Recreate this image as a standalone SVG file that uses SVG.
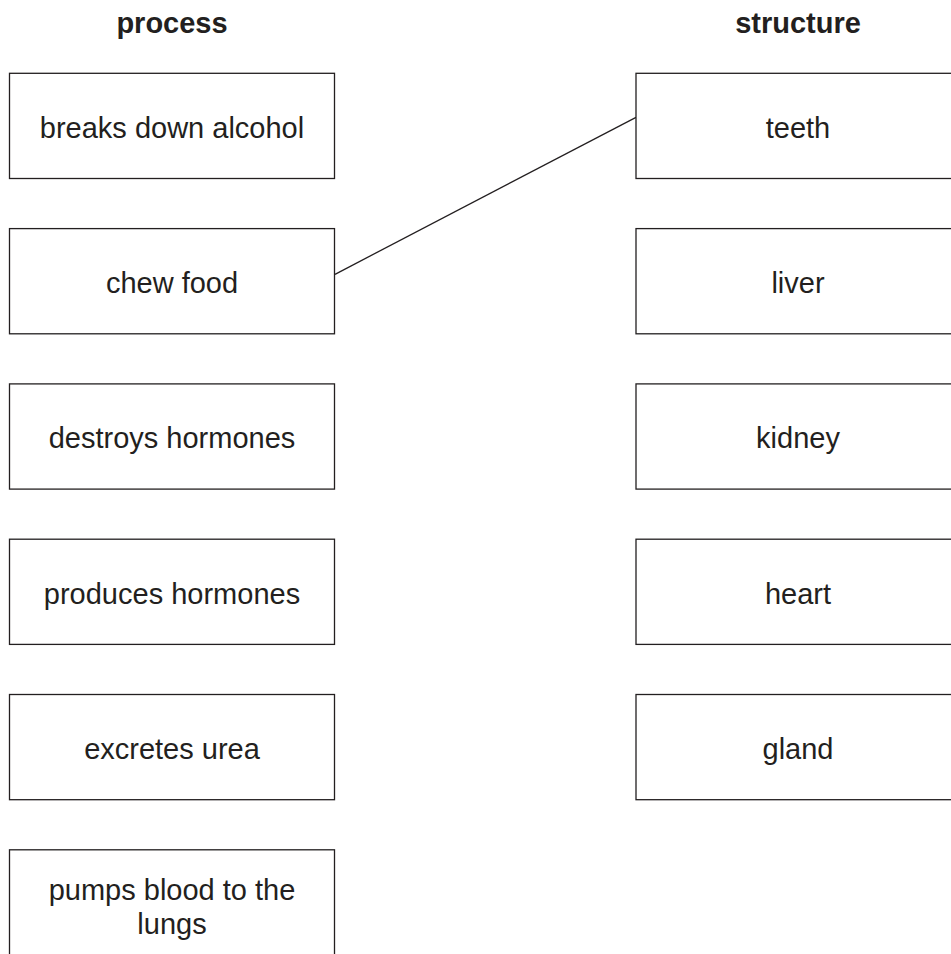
<svg xmlns="http://www.w3.org/2000/svg" width="951" height="954" viewBox="0 0 951 954">
<style>
.box{fill:#fff;stroke:#231f20;stroke-width:1.3}
.t{font-family:"Liberation Sans",Arial,sans-serif;font-size:29px;fill:#231f20;text-anchor:middle}
.h{font-family:"Liberation Sans",Arial,sans-serif;font-size:29px;font-weight:bold;fill:#231f20;text-anchor:middle}
.c{stroke:#231f20;stroke-width:1.3;fill:none}
</style>
<rect width="951" height="954" fill="#fff"/>
<text class="h" x="172" y="33">process</text>
<text class="h" x="798" y="33">structure</text>
<g id="connectors">
<line class="c" x1="335" y1="274.3" x2="636" y2="117.3"/>
</g>
<g id="p1"><rect class="box" x="9.5" y="73.3" width="325" height="105.2"/><text class="t" x="172" y="137.7">breaks down alcohol</text></g>
<g id="p2"><rect class="box" x="9.5" y="228.6" width="325" height="105.2"/><text class="t" x="172" y="293">chew food</text></g>
<g id="p3"><rect class="box" x="9.5" y="383.9" width="325" height="105.2"/><text class="t" x="172" y="448.3">destroys hormones</text></g>
<g id="p4"><rect class="box" x="9.5" y="539.2" width="325" height="105.2"/><text class="t" x="172" y="603.6">produces hormones</text></g>
<g id="p5"><rect class="box" x="9.5" y="694.5" width="325" height="105.2"/><text class="t" x="172" y="758.9">excretes urea</text></g>
<g id="p6"><rect class="box" x="9.5" y="849.8" width="325" height="125"/><text class="t" x="172" y="900">pumps blood to the</text><text class="t" x="172" y="934">lungs</text></g>
<g id="s1"><rect class="box" x="636" y="73.3" width="330" height="105.2"/><text class="t" x="798" y="137.7">teeth</text></g>
<g id="s2"><rect class="box" x="636" y="228.6" width="330" height="105.2"/><text class="t" x="798" y="293">liver</text></g>
<g id="s3"><rect class="box" x="636" y="383.9" width="330" height="105.2"/><text class="t" x="798" y="448.3">kidney</text></g>
<g id="s4"><rect class="box" x="636" y="539.2" width="330" height="105.2"/><text class="t" x="798" y="603.6">heart</text></g>
<g id="s5"><rect class="box" x="636" y="694.5" width="330" height="105.2"/><text class="t" x="798" y="758.9">gland</text></g>
</svg>
